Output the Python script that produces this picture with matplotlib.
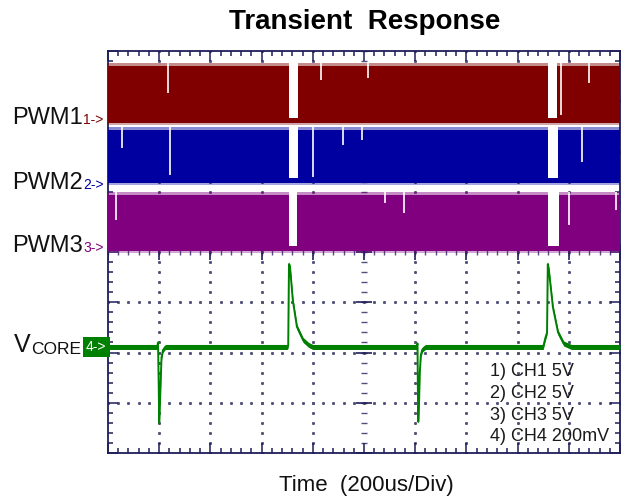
import numpy as np
import matplotlib
matplotlib.use("Agg")
import matplotlib.pyplot as plt

plt.rcParams["font.family"] = ["Liberation Sans", "DejaVu Sans"]

# 通道设置 (单位: 格, x 0..10, y 0..8)
channels = ["PWM1", "PWM2", "PWM3"]
ch_colors = ["#800000", "#0000a0", "#800080"]
band_bottom = [6.57, 5.37, 4.02]
band_top = [7.70, 6.43, 5.13]
gap_bottom = [6.67, 5.47, 4.12]

# 空隙 (开始, 结束)
gaps = [
    [(3.535, 3.711), (8.584, 8.770)],
    [(3.535, 3.711), (8.600, 8.780)],
    [(3.535, 3.690), (8.600, 8.810)],
]

# 白色毛刺 (x, 下端 y)
glitch_x = [
    [1.17, 4.16, 5.08, 8.84, 9.39],
    [0.27, 1.21, 4.00, 4.59, 4.96, 9.26],
    [0.16, 5.41, 5.78, 9.00, 9.92],
]
glitch_y = [
    [7.16, 7.42, 7.46, 6.73, 7.36],
    [6.06, 5.53, 5.49, 6.13, 6.23, 5.79],
    [4.64, 4.98, 4.78, 4.54, 4.84],
]

# VCORE 波形
vcore_t = [0.0, 0.96, 0.977, 0.99, 1.0, 1.012, 1.025, 1.045, 1.074, 1.12,
           3.50, 3.52, 3.535, 3.555, 3.61, 3.69, 3.81, 3.92, 4.0,
           6.03, 6.045, 6.052, 6.06, 6.075, 6.09, 6.11, 6.14, 6.20,
           8.50, 8.54, 8.575, 8.59, 8.61, 8.69, 8.79, 8.90, 9.05, 10.0]
vcore_v = [2.11, 2.11, 2.20, 1.40, 0.60, 0.90, 1.30, 1.90, 2.05, 2.11,
           2.11, 2.14, 3.76, 3.70, 3.04, 2.51, 2.25, 2.15, 2.11,
           2.11, 2.18, 1.30, 0.62, 1.00, 1.60, 1.95, 2.06, 2.11,
           2.11, 2.28, 2.40, 3.76, 3.65, 2.90, 2.40, 2.18, 2.11, 2.11]

legend_lines = ["1) CH1 5V", "2) CH2 5V", "3) CH3 5V", "4) CH4 200mV"]

W, H = 630, 501
fig = plt.figure(figsize=(6.3, 5.01), dpi=100)
ax = fig.add_axes([108 / W, 48 / H, 512 / W, 402 / H])
ax.set_xlim(0, 10)
ax.set_ylim(0, 8)

frame = "#1e1e5a"
for s in ax.spines.values():
    s.set_color(frame)
    s.set_linewidth(1.3)

ax.set_xticks(np.arange(0, 11, 1))
ax.set_yticks(np.arange(0, 9, 1))
ax.set_xticks(np.arange(0, 10.01, 0.2), minor=True)
ax.set_yticks(np.arange(0, 8.01, 0.2), minor=True)
ax.tick_params(which="both", direction="in", top=True, right=True,
               labelbottom=False, labelleft=False, color=frame, width=1.1)
ax.tick_params(which="major", length=7)
ax.tick_params(which="minor", length=3.5)

# 网格点
fine_x = np.arange(0, 10.01, 0.2)
fine_y = np.arange(0, 8.01, 0.2)
for gx in range(1, 10):
    if gx == 5:
        continue
    ax.plot(np.full_like(fine_y, gx), fine_y, ls="none", marker="s",
            ms=1.1, color="#50507a", zorder=1)
for gy in range(1, 8):
    if gy == 4:
        continue
    ax.plot(fine_x, np.full_like(fine_x, gy), ls="none", marker="s",
            ms=1.1, color="#50507a", zorder=1)

# 中心刻度
ax.plot(np.full_like(fine_y, 5), fine_y, ls="none", marker="_", ms=5,
        mew=1.0, color="#50507a", zorder=1)
ax.plot(fine_x, np.full_like(fine_x, 4), ls="none", marker="|", ms=5,
        mew=1.0, color="#50507a", zorder=1)
ax.plot([5] * 9, np.arange(0, 9), ls="none", marker="_", ms=11, mew=1.2,
        color=frame, zorder=1)
ax.plot(np.arange(0, 11), [4] * 11, ls="none", marker="|", ms=11, mew=1.2,
        color=frame, zorder=1)

# PWM 带
for i in range(3):
    c = ch_colors[i]
    ax.fill_between([0, 10], band_bottom[i], band_top[i], color=c, lw=0, zorder=3)
    ax.fill_between([0, 10], band_top[i], band_top[i] + 0.06, color=c,
                    alpha=0.45, lw=0, zorder=3)
    ax.fill_between([0, 10], band_bottom[i] - 0.04, band_bottom[i], color=c,
                    alpha=0.35, lw=0, zorder=3)
    for x0, x1 in gaps[i]:
        ax.fill_between([x0, x1], gap_bottom[i], band_top[i] + 0.1,
                        color="white", lw=0, zorder=4)
    ax.vlines(glitch_x[i], glitch_y[i], band_top[i] + 0.06, color="white",
              lw=1.2, zorder=4)

# VCORE
green = "#008000"
vt = np.array(vcore_t)
vv = np.array(vcore_v)
ax.fill_between(vt, vv - 0.05, vv + 0.05, color=green, lw=0, zorder=5)
ax.plot(vt, vv, color=green, lw=1.4, zorder=6)

# 图例文字
for k, s in enumerate(legend_lines):
    fig.text(490 / W, 1 - (372 + 21.5 * k) / H, s, fontsize=13,
             va="center", ha="left", color="#1a1a1a")

# 左侧标签
label_y = [118, 183, 246]
for i in range(3):
    fig.text(12 / W, 1 - label_y[i] / H, channels[i], fontsize=17,
             va="center", ha="left", color="#111111")
    fig.text(83 / W, 1 - (label_y[i] + 2) / H, f"{i + 1}->", fontsize=10,
             va="center", ha="left", color=ch_colors[i])

fig.text(14 / W, 1 - 345 / H, "V", fontsize=18, va="center", ha="left",
         color="#111111")
fig.text(31 / W, 1 - 350 / H, "CORE", fontsize=12.5, va="center", ha="left",
         color="#111111")
fig.text(86 / W, 1 - 347 / H, "4->", fontsize=10, va="center", ha="left",
         color="white", bbox=dict(boxstyle="square,pad=0.25", fc=green, ec="none"))

fig.suptitle("Transient  Response", x=365 / W, y=1 - 22 / H, fontsize=20,
             fontweight="bold", va="center")
fig.text(366 / W, 1 - 486 / H, "Time  (200us/Div)", fontsize=16,
         ha="center", va="center", color="#111111")

fig.savefig("out.png", dpi=100)
